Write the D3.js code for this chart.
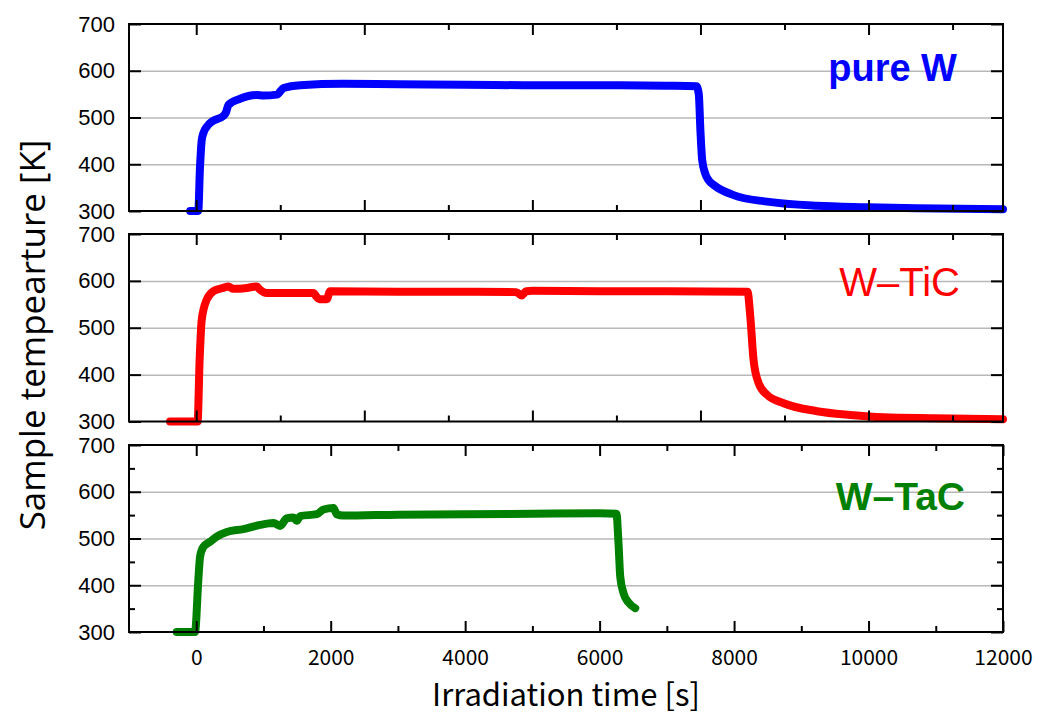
<!DOCTYPE html>
<html>
<head>
<meta charset="utf-8">
<script src="https://cdn.jsdelivr.net/npm/d3@7"></script>
<style>
  html, body { margin: 0; padding: 0; background: #fff; }
  svg { display: block; }
</style>
</head>
<body>
<svg id="chart" width="1037" height="720"></svg>
<script>
// Irradiation time [s] and sample temperature [K] for each material
const pureWTime = [-90, 30, 55, 82, 110, 156, 252, 400, 440, 480, 652, 900, 1000, 1198, 1300, 1545, 2185, 3000, 4000, 5000, 6000, 7000, 7440, 7475, 7500, 7525, 7571, 7620, 7695, 7993, 8490, 9234, 9978, 10722, 12000];
const pureWTemp = [300, 300, 390, 452, 468, 480, 493, 503, 510, 527, 540, 548, 547, 549, 563, 569, 572, 571, 570, 569, 569, 568, 567, 550, 470, 410, 380, 366, 356, 334, 320, 311, 308, 306, 304];

const wTiCTime = [-390, 20, 50, 82, 156, 255, 403, 478, 552, 751, 900, 949, 1049, 1743, 1790, 1830, 1942, 1991, 3000, 4000, 4760, 4840, 4910, 5000, 6000, 7000, 8200, 8241, 8290, 8365, 8490, 8737, 9234, 9729, 10225, 10969, 12000];
const wTiCTemp = [300, 300, 430, 517, 560, 578, 585, 588, 583, 585, 588, 581, 574, 574, 566, 561, 561, 578, 577, 577, 576, 569, 578, 579, 578, 578, 577, 524, 431, 382, 357, 339, 322, 314, 309, 307, 305];

const wTaCTime = [-290, -18, 31, 57, 106, 205, 305, 454, 701, 949, 1150, 1247, 1346, 1445, 1496, 1545, 1793, 1893, 2042, 2090, 2189, 3000, 4000, 5000, 6000, 6250, 6281, 6307, 6356, 6430, 6530];
const wTaCTemp = [300, 300, 411, 461, 482, 493, 504, 514, 520, 529, 533, 527, 543, 545, 538, 548, 552, 562, 565, 552, 549, 551, 552, 553, 554, 553, 490, 418, 383, 363, 351];

const seriesNames = ["pure W", "W–TiC", "W–TaC"];
const seriesColors = ["#0000ff", "#ff0000", "#008000"];

const timeDomain = [-1000, 12000];
const tempDomain = [300, 700];
const tempTicks = [300, 400, 500, 600, 700];
const tempGrid = [400, 500, 600];
const tempMinor = [350, 450, 550, 650];
const timeTicksWide = [0, 2500, 5000, 7500, 10000];
const timeMinorWide = [1250, 3750, 6250, 8750, 11250];
const timeTicks = [0, 2000, 4000, 6000, 8000, 10000, 12000];
const timeMinor = [1000, 3000, 5000, 7000, 9000, 11000];

const svg = d3.select("#chart");

const left = 129, right = 1003;
const x = d3.scaleLinear().domain(timeDomain).range([left, right]);

const panels = [
  { top: 24, bottom: 211, time: pureWTime, temp: pureWTemp, xMajor: timeTicksWide, xMinor: timeMinorWide, yMinor: [],
    label: { right: 957, base: 81, size: 38, weight: "bold" } },
  { top: 234, bottom: 421.5, time: wTiCTime, temp: wTiCTemp, xMajor: timeTicksWide, xMinor: timeMinorWide, yMinor: [],
    label: { right: 960, base: 296, size: 40, weight: "normal" } },
  { top: 445, bottom: 632, time: wTaCTime, temp: wTaCTemp, xMajor: timeTicks, xMinor: timeMinor, yMinor: tempMinor,
    label: { right: 965, base: 510, size: 39, weight: "bold" } }
];

const majorLen = 11, minorLen = 6;

panels.forEach((p, i) => {
  const y = d3.scaleLinear().domain(tempDomain).range([p.bottom, p.top]);
  const g = svg.append("g");
  const w = right - left;

  // horizontal grid
  g.append("g")
    .attr("transform", `translate(${left},0)`)
    .call(d3.axisLeft(y).tickValues(tempGrid).tickSize(-w).tickFormat(""))
    .call(s => s.select(".domain").remove())
    .call(s => s.selectAll("line").attr("stroke", "#b8b8b8").attr("stroke-width", 1.5));

  // data line
  const data = p.time.map((t, k) => [t, p.temp[k]]);
  g.append("path")
    .datum(data)
    .attr("fill", "none")
    .attr("stroke", seriesColors[i])
    .attr("stroke-width", 8)
    .attr("stroke-linejoin", "round")
    .attr("stroke-linecap", "round")
    .attr("d", d3.line().x(d => x(d[0])).y(d => y(d[1])).curve(d3.curveMonotoneX));

  const tickStyle = s => {
    s.select(".domain").remove();
    s.selectAll("line").attr("stroke", "#000").attr("stroke-width", 2);
  };

  // y ticks, left (labelled) and right
  g.append("g")
    .attr("transform", `translate(${left},0)`)
    .call(d3.axisLeft(y).tickValues(tempTicks).tickSizeInner(-12).tickSizeOuter(0).tickPadding(14))
    .call(tickStyle)
    .call(s => s.selectAll("text")
      .attr("fill", "#000")
      .style("font-family", "'Liberation Sans', Arial, sans-serif")
      .style("font-size", "22px"));
  g.append("g")
    .attr("transform", `translate(${right},0)`)
    .call(d3.axisRight(y).tickValues(tempTicks).tickSizeInner(-12).tickSizeOuter(0).tickFormat(""))
    .call(tickStyle);
  if (p.yMinor.length) {
    g.append("g").attr("transform", `translate(${left},0)`)
      .call(d3.axisLeft(y).tickValues(p.yMinor).tickSizeInner(-minorLen).tickSizeOuter(0).tickFormat(""))
      .call(tickStyle);
    g.append("g").attr("transform", `translate(${right},0)`)
      .call(d3.axisRight(y).tickValues(p.yMinor).tickSizeInner(-minorLen).tickSizeOuter(0).tickFormat(""))
      .call(tickStyle);
  }

  // x ticks, bottom and top
  const isLast = i === panels.length - 1;
  const bottomAxis = d3.axisBottom(x).tickValues(p.xMajor).tickSizeInner(-majorLen).tickSizeOuter(0).tickPadding(18)
    .tickFormat(isLast ? d3.format("d") : "");
  g.append("g")
    .attr("transform", `translate(0,${p.bottom})`)
    .call(bottomAxis)
    .call(tickStyle)
    .call(s => s.selectAll("text")
      .attr("fill", "#000")
      .style("font-family", "'Noto Sans CJK JP', 'Noto Sans', sans-serif")
      .style("font-size", "21px"));
  g.append("g")
    .attr("transform", `translate(0,${p.bottom})`)
    .call(d3.axisBottom(x).tickValues(p.xMinor).tickSizeInner(-minorLen).tickSizeOuter(0).tickFormat(""))
    .call(tickStyle);
  g.append("g")
    .attr("transform", `translate(0,${p.top})`)
    .call(d3.axisTop(x).tickValues(p.xMajor).tickSizeInner(-majorLen).tickSizeOuter(0).tickFormat(""))
    .call(tickStyle);
  g.append("g")
    .attr("transform", `translate(0,${p.top})`)
    .call(d3.axisTop(x).tickValues(p.xMinor).tickSizeInner(-minorLen).tickSizeOuter(0).tickFormat(""))
    .call(tickStyle);

  // frame
  g.append("rect")
    .attr("x", left).attr("y", p.top)
    .attr("width", w).attr("height", p.bottom - p.top)
    .attr("fill", "none").attr("stroke", "#000").attr("stroke-width", 2);

  // material label
  g.append("text")
    .attr("x", p.label.right).attr("y", p.label.base)
    .attr("text-anchor", "end")
    .attr("fill", seriesColors[i])
    .style("font-family", "'Liberation Sans', Arial, sans-serif")
    .style("font-size", p.label.size + "px")
    .style("font-weight", p.label.weight)
    .text(seriesNames[i]);
});

// axis titles
svg.append("text")
  .attr("x", (left + right) / 2).attr("y", 706)
  .attr("text-anchor", "middle")
  .style("font-family", "'Noto Sans CJK JP', 'Noto Sans', sans-serif")
  .style("font-size", "31px")
  .text("Irradiation time [s]");

svg.append("text")
  .attr("transform", "translate(45,335) rotate(-90)")
  .attr("text-anchor", "middle")
  .style("font-family", "'Open Sans', 'Noto Sans', sans-serif")
  .style("font-size", "35px")
  .text("Sample tempearture [K]");
</script>
</body>
</html>
